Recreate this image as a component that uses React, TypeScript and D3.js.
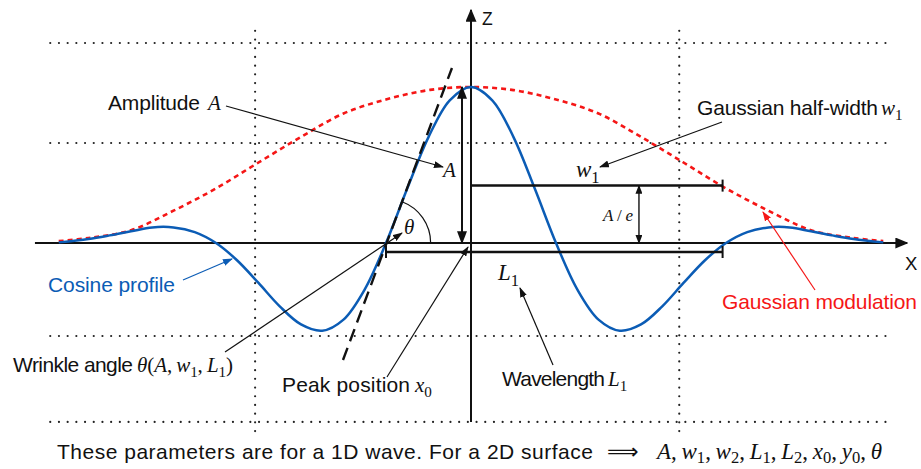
import React from 'react';
import * as d3 from 'd3';

// u = position along X in quarter wavelengths (peak at 0), z = height in units of A
const profileU = [-4.85, -4.5, -4.25, -4, -3.75, -3.5, -3.25, -3, -2.75, -2.5, -2.25, -2, -1.75, -1.5, -1.25, -1, -0.75, -0.5, -0.25, 0,
  0.25, 0.5, 0.75, 1, 1.25, 1.5, 1.75, 2, 2.25, 2.5, 2.75, 3, 3.25, 3.5, 3.75, 4, 4.25, 4.5, 4.85];
const profileZ = [0.004, 0.026, 0.049, 0.075, 0.1, 0.1, 0.07, 0, -0.112, -0.256, -0.406, -0.522, -0.562, -0.491, -0.297, 0, 0.349, 0.679, 0.915, 1,
  0.915, 0.679, 0.349, 0, -0.297, -0.491, -0.562, -0.522, -0.406, -0.256, -0.112, 0, 0.07, 0.1, 0.1, 0.075, 0.049, 0.026, 0.004];

const envelopeU = [-4.85, -4.5, -4, -3.5, -3, -2.5, -2, -1.5, -1, -0.5, 0, 0.5, 1, 1.5, 2, 2.5, 3, 3.5, 4, 4.5, 4.85];
const envelopeZ = [0.012, 0.032, 0.082, 0.207, 0.35, 0.516, 0.68, 0.83, 0.92, 0.98, 1, 0.98, 0.92, 0.83, 0.68, 0.516, 0.35, 0.207, 0.082, 0.032, 0.012];

// dotted guide lines
const gridLevels = [1.282, 0.641, -0.596, -1.147];
const gridCols = [-2.54, 2.45];

// wave parameters
const amplitude = 1;
const peakU = 0;
const halfWidth = 2.96;
const wavelengthSpan = [-1, 2.96];
const tangentLine = [[-1.506, -0.75], [-0.224, 1.122]];
const ampArrowU = -0.106;
const aeArrowU = 1.976;

const BLUE = '#0b5cb5';
const RED = '#f51616';
const INK = '#111';
const SANS = '"Liberation Sans", Arial, Helvetica, sans-serif';
const SERIF = '"Liberation Serif", "Times New Roman", serif';
const TS = '\u2009';

// annotation arrows [x1, y1, x2, y2, colour]
const pointers: [number, number, number, number, string][] = [
  [226, 106, 443, 167, INK],
  [722, 122, 600, 167, INK],
  [183, 280, 232, 259, BLUE],
  [815, 290, 763, 212, RED],
  [225, 352, 402, 233, INK],
  [387, 377, 468, 247, INK],
  [553, 365, 520, 288, INK],
];

// text labels: [text, x, baseline, width, colour]
const labels: [string, number, number, number, string][] = [
  ['Amplitude', 108, 110, 92, INK],
  ['Gaussian half-width', 697, 115, 181, INK],
  ['Cosine profile', 48, 292, 127, BLUE],
  ['Gaussian modulation', 722, 309, 195, RED],
  ['Wrinkle angle', 13, 372, 120, INK],
  ['Peak position', 282, 392, 128, INK],
  ['Wavelength', 502, 386, 103, INK],
  ['These parameters are for a 1D wave. For a 2D surface', 57, 459, 536, INK],
];

// math tokens: "w_1" -> italic w with upright subscript 1
function MathSpans({ toks, size, sub = 0.24 }: { toks: string[]; size: number; sub?: number }) {
  const out: any[] = [];
  let shifted = 0;
  toks.forEach((t, i) => {
    const m = t.match(/^([A-Za-zθ]+)(?:_(\w+))?$/);
    if (m) {
      out.push(<tspan key={i + 'v'} fontStyle="italic" dy={-shifted}>{m[1]}</tspan>);
      shifted = 0;
      if (m[2]) {
        const d = size * sub;
        out.push(<tspan key={i + 's'} fontSize={size * 0.72} dy={d}>{m[2]}</tspan>);
        shifted = d;
      }
    } else {
      out.push(<tspan key={i + 'p'} dy={-shifted}>{t}</tspan>);
      shifted = 0;
    }
  });
  return <>{out}</>;
}

function MathLabel({ x, y, size, toks, width, sub }: { x: number; y: number; size: number; toks: string[]; width?: number; sub?: number }) {
  return (
    <text x={x} y={y} fontFamily={SERIF} fontSize={size} fill={INK}
      textLength={width} lengthAdjust={width ? 'spacing' : undefined}>
      <MathSpans toks={toks} size={size} sub={sub} />
    </text>
  );
}

export default function App() {
  const x = d3.scaleLinear().domain([0, 1]).range([471, 556]);
  const y = d3.scaleLinear().domain([0, amplitude]).range([243, 87]);

  const line = d3.line<[number, number]>()
    .x(d => x(d[0]))
    .y(d => y(d[1]))
    .curve(d3.curveCatmullRom.alpha(0.5));

  const profile = line(profileU.map((u, i) => [u, profileZ[i]]));
  const envelope = line(envelopeU.map((u, i) => [u, envelopeZ[i]]));

  // theta arc at the zero crossing of the tangent
  const [t0, t1] = tangentLine;
  const cx = x(t0[0] + (0 - t0[1]) * (t1[0] - t0[0]) / (t1[1] - t0[1]));
  const cy = y(0);
  const ang = Math.atan2(y(t0[1]) - y(t1[1]), x(t1[0]) - x(t0[0]));
  const arc = d3.path();
  arc.arc(cx, cy, 44, 0, -ang, true);

  const eLevel = amplitude / Math.E;
  const barY = y(0) + 9;

  return (
    <svg width={921} height={469} style={{ position: 'absolute', left: 0, top: 0, background: '#fff' }}>
      <defs>
        <marker id="axisHead" viewBox="0 0 10 10" refX="9" refY="5" markerWidth="13" markerHeight="11"
          markerUnits="userSpaceOnUse" orient="auto" preserveAspectRatio="none">
          <path d="M0,0L10,5L0,10z" fill={INK} />
        </marker>
        <marker id="bigHead" viewBox="0 0 10 10" refX="9" refY="5" markerWidth="13" markerHeight="10"
          markerUnits="userSpaceOnUse" orient="auto-start-reverse" preserveAspectRatio="none">
          <path d="M0,0L10,5L0,10z" fill={INK} />
        </marker>
        <marker id="midHead" viewBox="0 0 10 10" refX="9" refY="5" markerWidth="9" markerHeight="7"
          markerUnits="userSpaceOnUse" orient="auto-start-reverse" preserveAspectRatio="none">
          <path d="M0,0L10,5L0,10z" fill={INK} />
        </marker>
        {[INK, BLUE, RED].map((c, i) => (
          <marker key={c} id={'ptr' + i} viewBox="0 0 10 10" refX="9" refY="5" markerWidth="10" markerHeight="7"
            markerUnits="userSpaceOnUse" orient="auto" preserveAspectRatio="none">
            <path d="M0,0L10,5L0,10z" fill={c} />
          </marker>
        ))}
      </defs>

      {/* dotted guides */}
      <g stroke="#222" strokeWidth={2.2} strokeLinecap="round" strokeDasharray="0 8.7">
        {gridLevels.map(z => (
          <line key={z} x1={x(-4.95)} x2={x(4.965)} y1={y(z)} y2={y(z)} />
        ))}
        {gridCols.map(u => (
          <line key={u} x1={x(u)} x2={x(u)} y1={y(1.36)} y2={y(-1.23)} />
        ))}
      </g>

      {/* axes */}
      <line x1={x(-5.13)} x2={x(5.13)} y1={y(0)} y2={y(0)} stroke={INK} strokeWidth={2} markerEnd="url(#axisHead)" />
      <line x1={x(peakU)} x2={x(peakU)} y1={y(-1.147)} y2={y(1.494)} stroke={INK} strokeWidth={2} markerEnd="url(#axisHead)" />
      <text x={482} y={25} fontFamily={SANS} fontSize={17.5} fill={INK}>Z</text>
      <text x={905} y={270} fontFamily={SANS} fontSize={18.5} fill={INK}>X</text>

      {/* curves */}
      <path d={envelope || ''} fill="none" stroke={RED} strokeWidth={2.6} strokeDasharray="5 4" />
      <path d={profile || ''} fill="none" stroke={BLUE} strokeWidth={2.5} />

      {/* tangent line and angle */}
      <line x1={x(t0[0])} y1={y(t0[1])} x2={x(t1[0])} y2={y(t1[1])}
        stroke={INK} strokeWidth={2.4} strokeDasharray="13 7" />
      <path d={arc.toString()} fill="none" stroke={INK} strokeWidth={1.2} />

      {/* amplitude arrow */}
      <line x1={x(ampArrowU)} x2={x(ampArrowU)} y1={y(0)} y2={y(amplitude)} stroke={INK} strokeWidth={2}
        markerStart="url(#bigHead)" markerEnd="url(#bigHead)" />
      {/* A/e arrow */}
      <line x1={x(aeArrowU)} x2={x(aeArrowU)} y1={y(0)} y2={y(eLevel)} stroke={INK} strokeWidth={1.4}
        markerStart="url(#midHead)" markerEnd="url(#midHead)" />

      {/* w1 bar */}
      <line x1={x(peakU)} x2={x(halfWidth)} y1={y(eLevel)} y2={y(eLevel)} stroke={INK} strokeWidth={2.5} />
      <line x1={x(halfWidth)} x2={x(halfWidth)} y1={y(eLevel) - 6} y2={y(eLevel) + 6} stroke={INK} strokeWidth={2} />
      {/* L1 bar */}
      <line x1={x(wavelengthSpan[0])} x2={x(wavelengthSpan[1])} y1={barY} y2={barY} stroke={INK} strokeWidth={2.5} />
      {wavelengthSpan.map(u => (
        <line key={u} x1={x(u)} x2={x(u)} y1={barY - 6} y2={barY + 6} stroke={INK} strokeWidth={2} />
      ))}

      {/* pointers */}
      {pointers.map(([x1, y1, x2, y2, c], i) => (
        <line key={i} x1={x1} y1={y1} x2={x2} y2={y2} stroke={c} strokeWidth={1.2}
          markerEnd={`url(#ptr${[INK, BLUE, RED].indexOf(c)})`} />
      ))}

      {/* math labels on the figure */}
      <MathLabel x={443} y={177} size={21} toks={['A']} />
      <MathLabel x={404} y={234} size={21} toks={['θ']} />
      <MathLabel x={576} y={177} size={23} toks={['w_1']} />
      <MathLabel x={498} y={280} size={23} toks={['L_1']} />
      <MathLabel x={603} y={221} size={17} toks={['A', ' / ', 'e']} width={30} />

      {/* descriptive labels */}
      {labels.map(([t, lx, ly, w, c]) => (
        <text key={t} x={lx} y={ly} fontFamily={SANS} fontSize={21} fill={c} textLength={w} lengthAdjust="spacing">{t}</text>
      ))}
      <MathLabel x={208} y={110} size={21} toks={['A']} />
      <MathLabel x={881} y={115} size={21} toks={['w_1']} />
      <MathLabel x={137} y={372} size={21} toks={['θ', '(', 'A', ',' + TS, 'w_1', ',' + TS, 'L_1', ')']} width={96} />
      <MathLabel x={415} y={392} size={21} toks={['x_0']} />
      <MathLabel x={608} y={386} size={21} toks={['L_1']} />

      <text x={607} y={459} fontFamily="DejaVu Sans" fontSize={22} fill={INK}>⟹</text>
      <MathLabel x={657} y={459} size={23} sub={0.17}
        toks={['A', ',' + TS, 'w_1', ',' + TS, 'w_2', ',' + TS, 'L_1', ',' + TS, 'L_2', ',' + TS, 'x_0', ',' + TS, 'y_0', ',' + TS, 'θ']}
        width={225} />
    </svg>
  );
}
